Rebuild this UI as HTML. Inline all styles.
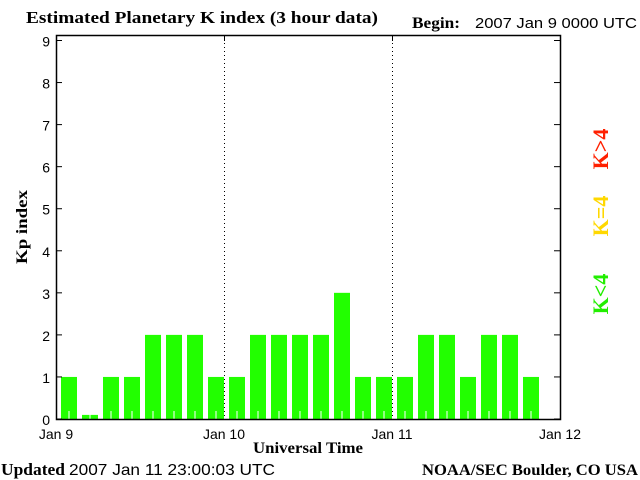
<!DOCTYPE html>
<html><head><meta charset="utf-8"><style>
html,body{margin:0;padding:0;background:#fff}
svg{display:block}
.s{font-family:"Liberation Sans",sans-serif;font-size:14px}
.b{font-family:"Liberation Serif",serif;font-weight:bold;font-size:15px}
</style></head><body>
<svg id="c" width="640" height="480" xmlns="http://www.w3.org/2000/svg">
<text class="b" style="font-size:17px" x="26" y="23" textLength="352" lengthAdjust="spacingAndGlyphs">Estimated Planetary K index (3 hour data)</text>
<text class="b" style="font-size:16px" x="412" y="28" textLength="48" lengthAdjust="spacingAndGlyphs">Begin:</text>
<text class="s" style="font-size:15px" x="475" y="28" textLength="162" lengthAdjust="spacingAndGlyphs">2007 Jan 9 0000 UTC</text>
<g id="bars"></g>
<g id="axes"></g>
<text class="b" style="font-size:16px" transform="translate(27,227) rotate(-90)" text-anchor="middle" textLength="74" lengthAdjust="spacingAndGlyphs">Kp index</text>
<text class="b" style="font-size:16px" x="253" y="453" textLength="110" lengthAdjust="spacingAndGlyphs">Universal Time</text>
<text class="b" style="font-size:17px" x="1" y="475" textLength="64" lengthAdjust="spacingAndGlyphs">Updated</text>
<text class="s" style="font-size:16px" x="69" y="475" textLength="206" lengthAdjust="spacingAndGlyphs">2007 Jan 11 23:00:03 UTC</text>
<text class="b" style="font-size:16px" x="422" y="475" textLength="216" lengthAdjust="spacingAndGlyphs">NOAA/SEC Boulder, CO USA</text>
<text class="b" style="font-size:22px" fill="#ff2000" transform="translate(608,149) rotate(-90)" text-anchor="middle">K&gt;4</text>
<text class="b" style="font-size:22px" fill="#ffd800" transform="translate(608,216) rotate(-90)" text-anchor="middle">K=4</text>
<text class="b" style="font-size:22px" fill="#22ee00" transform="translate(608,294) rotate(-90)" text-anchor="middle">K&lt;4</text>
</svg>
<script>
const kp = [1,0.05,1,1,2,2,2,1, 1,2,2,2,2,3,1,1, 1,2,2,1,2,2,1];
const dayLabels = ["Jan 9","Jan 10","Jan 11","Jan 12"];
const yTicks = [0,1,2,3,4,5,6,7,8,9];
const NS="http://www.w3.org/2000/svg";
const L=56,R=560,T=35,B=419;
const xDay=d=>L+d*(R-L)/3;
const xSlot=i=>L+i*(R-L)/24;
const y=v=>B-v*(B-40.5)/9;
function mk(t,a,p){const e=document.createElementNS(NS,t);for(const k in a)e.setAttribute(k,a[k]);(p||document.getElementById('axes')).appendChild(e);return e;}
const bars=document.getElementById('bars');
kp.forEach((v,i)=>{
  const x0=xSlot(i)+5, w=16;
  const r=mk('rect',{x:x0,y:y(v)-(v<0.1?2:0),width:w,height:B-y(v)+(v<0.1?2:0),fill:'#22ff00'},bars);
  
  
  const l=mk('line',{x1:x0+w/2,x2:x0+w/2,y1:B-8,y2:B,stroke:'#fff','stroke-width':1},bars);
  
  
});
[1,2].forEach(d=>{
  const l=mk('line',{x1:xDay(d)+0.5,x2:xDay(d)+0.5,y1:T,y2:B,stroke:'#000','stroke-dasharray':'1,3'});
  
  
  mk('line',{x1:xDay(d)+0.5,x2:xDay(d)+0.5,y1:T,y2:T+6,stroke:'#000'});
});
const f=mk('rect',{x:L+0.5,y:T+0.5,width:R-L,height:B-T,fill:'none',stroke:'#000','stroke-width':1.5});


yTicks.forEach(v=>{
  mk('line',{x1:L,x2:L+6,y1:y(v),y2:y(v),stroke:'#000'});
  mk('line',{x1:R-6,x2:R,y1:y(v),y2:y(v),stroke:'#000'});
  const t=mk('text',{x:L-6,y:y(v)+6,'text-anchor':'end','class':'s','font-size':'16'});
  t.textContent=v;
  
  
});
dayLabels.forEach((s,d)=>{
  const t=mk('text',{x:xDay(d),y:439,'text-anchor':'middle','class':'s'});
  t.textContent=s;
  
  
});
</script>
</body></html>
